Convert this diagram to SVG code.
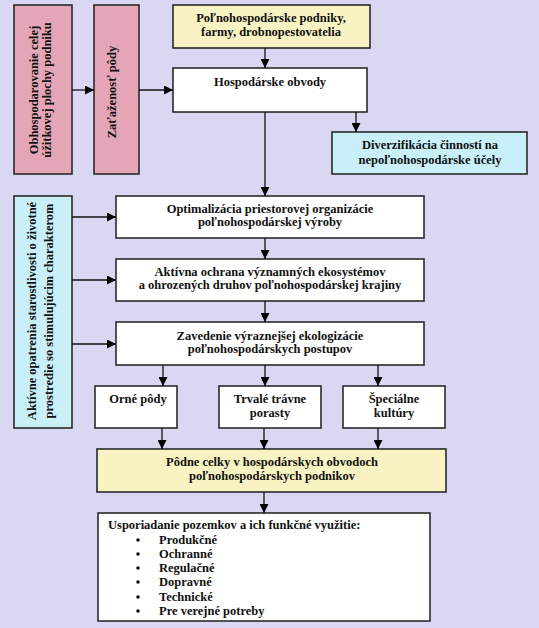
<svg xmlns="http://www.w3.org/2000/svg" width="539" height="628" viewBox="0 0 539 628">
<defs>
<marker id="ah" viewBox="0 0 10 10" refX="10" refY="5" markerWidth="9" markerHeight="9" markerUnits="userSpaceOnUse" orient="auto">
<path d="M0,0 L10,5 L0,10 z" fill="#000"/>
</marker>
<style>
.bx{stroke:#2a2a2a;stroke-width:1.6}
.w{fill:#ffffff}
.pk{fill:#e4a6b6}
.bl{fill:#c9f0f9}
.yl{fill:#f9f3c3}
text{font-family:"Liberation Serif","Times New Roman",serif;font-weight:bold;font-size:12.5px;fill:#111}
.c{text-anchor:middle}
.cn line{stroke:#111;stroke-width:1.3;marker-end:url(#ah)}
</style>
</defs>
<rect x="0" y="0" width="539" height="628" fill="#dad7f3"/>

<g id="pink1">
<rect class="bx pk" x="14" y="5" width="58" height="169"/>
<g transform="translate(43,90) rotate(-90)">
<text class="c" x="0" y="-5">Obhospodarovanie celej</text>
<text class="c" x="0" y="8">úžitkovej plochy podniku</text>
</g>
</g>

<g id="pink2">
<rect class="bx pk" x="94" y="5" width="45" height="169"/>
<g transform="translate(112,92) rotate(-90)">
<text class="c" x="0" y="4">Zaťaženosť pôdy</text>
</g>
</g>

<g id="blue">
<rect class="bx bl" x="14" y="196" width="58" height="232"/>
<g transform="translate(43,311) rotate(-90)">
<text class="c" x="0" y="-7">Aktívne opatrenia starostlivosti o životné</text>
<text class="c" x="0" y="10">prostredie so stimulujúcim charakterom</text>
</g>
</g>

<g id="podniky">
<rect class="bx yl" x="173" y="5" width="197" height="43"/>
<text class="c" x="271" y="22">Poľnohospodárske podniky,</text>
<text class="c" x="271" y="36">farmy, drobnopestovatelia</text>
</g>

<g id="obvody">
<rect class="bx w" x="173" y="68" width="194" height="44"/>
<text class="c" x="270" y="86">Hospodárske obvody</text>
</g>

<g id="diverzifikacia">
<rect class="bx bl" x="332" y="132" width="195" height="42"/>
<text class="c" x="430" y="149">Diverzifikácia činností na</text>
<text class="c" x="430" y="164">nepoľnohospodárske účely</text>
</g>

<g id="optimalizacia">
<rect class="bx w" x="116" y="196" width="308" height="42"/>
<text class="c" x="270" y="213">Optimalizácia priestorovej organizácie</text>
<text class="c" x="270" y="226">poľnohospodárskej výroby</text>
</g>

<g id="ochrana">
<rect class="bx w" x="116" y="259" width="308" height="42"/>
<text class="c" x="270" y="276">Aktívna ochrana významných ekosystémov</text>
<text class="c" x="270" y="289">a ohrozených druhov poľnohospodárskej krajiny</text>
</g>

<g id="ekologizacia">
<rect class="bx w" x="116" y="322" width="308" height="43"/>
<text class="c" x="270" y="340">Zavedenie výraznejšej ekologizácie</text>
<text class="c" x="270" y="353">poľnohospodárskych postupov</text>
</g>

<g id="orne">
<rect class="bx w" x="95" y="386" width="82" height="42"/>
<text class="c" x="138" y="403">Orné pôdy</text>
</g>

<g id="travne">
<rect class="bx w" x="219" y="386" width="102" height="42"/>
<text class="c" x="270" y="403">Trvalé trávne</text>
<text class="c" x="270" y="417">porasty</text>
</g>

<g id="specialne">
<rect class="bx w" x="343" y="386" width="102" height="42"/>
<text class="c" x="394" y="403">Špeciálne</text>
<text class="c" x="394" y="417">kultúry</text>
</g>

<g id="podne">
<rect class="bx yl" x="97" y="449" width="349" height="43"/>
<text class="c" x="272" y="466">Pôdne celky v hospodárskych obvodoch</text>
<text class="c" x="272" y="480">poľnohospodárskych podnikov</text>
</g>

<g id="usporiadanie">
<rect class="bx w" x="98" y="513" width="332" height="108"/>
<text x="108" y="529">Usporiadanie pozemkov a ich funkčné využitie:</text>
<g>
<circle cx="138" cy="540" r="1.8" fill="#111"/>
<circle cx="138" cy="554" r="1.8" fill="#111"/>
<circle cx="138" cy="568" r="1.8" fill="#111"/>
<circle cx="138" cy="582" r="1.8" fill="#111"/>
<circle cx="138" cy="597" r="1.8" fill="#111"/>
<circle cx="138" cy="611" r="1.8" fill="#111"/>
</g>
<text x="159" y="544">Produkčné</text>
<text x="159" y="558">Ochranné</text>
<text x="159" y="572">Regulačné</text>
<text x="159" y="586">Dopravné</text>
<text x="159" y="601">Technické</text>
<text x="159" y="615">Pre verejné potreby</text>
</g>

<g id="connectors" class="cn">
<line x1="72" y1="90" x2="94" y2="90"/>
<line x1="139" y1="90" x2="173" y2="90"/>
<line x1="265" y1="48" x2="265" y2="68"/>
<line x1="356" y1="112" x2="356" y2="132"/>
<line x1="265" y1="112" x2="265" y2="196"/>
<line x1="265" y1="238" x2="265" y2="259"/>
<line x1="265" y1="301" x2="265" y2="322"/>
<line x1="72" y1="217" x2="116" y2="217"/>
<line x1="72" y1="280" x2="116" y2="280"/>
<line x1="72" y1="344" x2="116" y2="344"/>
<line x1="163" y1="365" x2="163" y2="386"/>
<line x1="265" y1="365" x2="265" y2="386"/>
<line x1="378" y1="365" x2="378" y2="386"/>
<line x1="162" y1="428" x2="162" y2="449"/>
<line x1="264" y1="428" x2="264" y2="449"/>
<line x1="378" y1="428" x2="378" y2="449"/>
<line x1="264" y1="492" x2="264" y2="513"/>
</g>
</svg>
